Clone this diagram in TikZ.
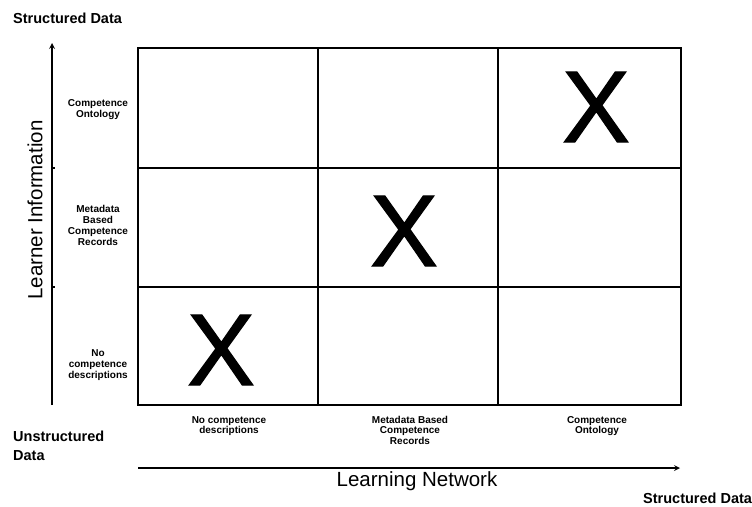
\documentclass[tikz,border=0pt]{standalone}
\usepackage{fontspec}
\setmainfont{Liberation Sans}
\newfontfamily\crossfont[FakeBold=1.2]{Liberation Sans}

\tikzset{
  rowlabel/.style={font=\fontsize{10}{11}\selectfont\bfseries, align=center, inner sep=0pt},
  collabel/.style={font=\fontsize{10}{10.5}\selectfont\bfseries, align=center, inner sep=0pt, anchor=north},
  endlabel/.style={font=\fontsize{14.5}{19}\selectfont\bfseries, align=left, inner sep=0pt},
  axislabel/.style={font=\fontsize{20.5}{22}\selectfont, inner sep=0pt},
  crossmark/.style={font=\crossfont\fontsize{102}{102}\selectfont, inner sep=0pt},
}

\begin{document}
\begin{tikzpicture}[x=1pt,y=-1pt]
  \useasboundingbox (0,0) rectangle (752,506);

  % the 3x3 matrix
  \draw[line width=1.5pt] (138,168) -- (681,168);
  \draw[line width=1.5pt] (138,287) -- (681,287);
  \draw[line width=1.5pt] (318,48) -- (318,405);
  \draw[line width=1.5pt] (498,48) -- (498,405);
  \draw[line width=2.2pt] (138,48) rectangle (681,405);

  \node[crossmark] (xlow) at (221,350) {X};
  \node[crossmark] (xmid) at (404,231) {X};
  \node[crossmark] (xhigh) at (596,107) {X};

  % vertical axis
  \coordinate (ybottom) at (52,405);
  \coordinate (ytop) at (52,43);
  \draw[line width=1.6pt,-stealth] (ybottom) -- (ytop);
  \draw[line width=1.2pt] (52,168) -- (55,168);
  \draw[line width=1.2pt] (52,287) -- (55,287);

  \node[rowlabel] (rowhigh) at (98,110) {Competence\\Ontology};
  \node[rowlabel] (rowmid) at (98,225) {Metadata\\Based\\Competence\\Records};
  \node[rowlabel] (rowlow) at (98,365) {No\\competence\\descriptions};
  \node[axislabel,rotate=90] (learner) at (35,210) {Learner Information};

  % horizontal axis
  \coordinate (xleft) at (138,468);
  \coordinate (xright) at (680,468);
  \draw[line width=1.6pt,-stealth] (xleft) -- (xright);

  \node[collabel] (collow) at (229,416) {No competence\\descriptions};
  \node[collabel] (colmid) at (410,416) {Metadata Based\\Competence\\Records};
  \node[collabel] (colhigh) at (597,416) {Competence\\Ontology};
  \node[axislabel] (network) at (417,481) {Learning Network};

  % ends of the scale
  \node[endlabel,anchor=west] (topdata) at (13,18) {Structured Data};
  \node[endlabel,anchor=north west] (unstructured) at (13,431) {Unstructured\\Data};
  \node[endlabel,anchor=west] (rightdata) at (643,498) {Structured Data};

\end{tikzpicture}
\end{document}
